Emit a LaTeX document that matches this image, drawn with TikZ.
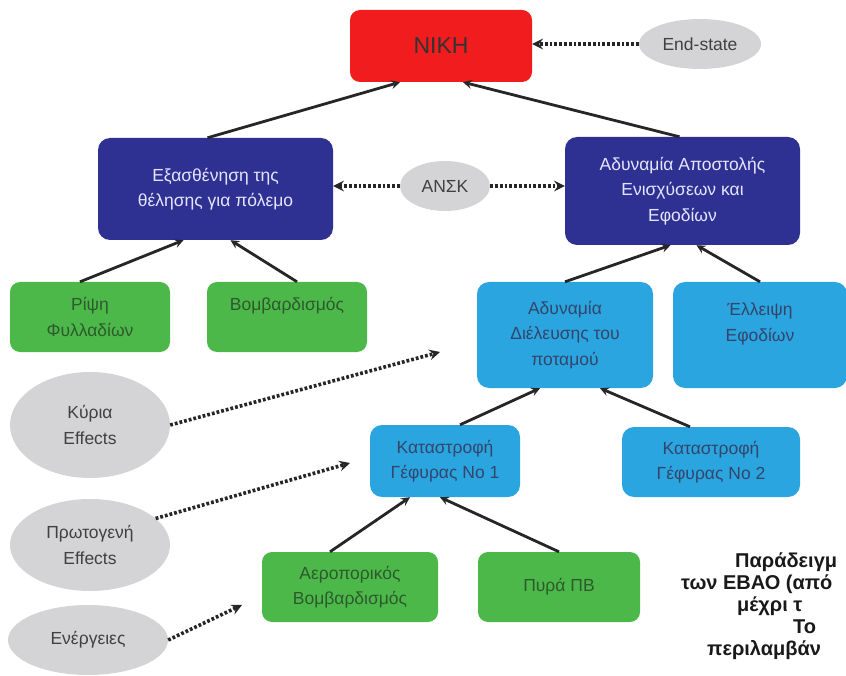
\documentclass[tikz,border=0pt]{standalone}
\usepackage{fontspec}
\setmainfont{Liberation Sans}
\usepackage{xcolor}
\usetikzlibrary{shapes.geometric, arrows}
\definecolor{nikered}{HTML}{F01C1E}
\definecolor{darkblue}{HTML}{2E3192}
\definecolor{lightblue}{HTML}{2AA5E0}
\definecolor{leafgreen}{HTML}{4DB84A}
\definecolor{ovalgray}{HTML}{D4D4D6}
\definecolor{slatetext}{HTML}{34456A}
\definecolor{greentext}{HTML}{2C5A2C}
\tikzstyle{goal} = [rectangle, rounded corners=10pt, inner sep=0pt, align=center, fill=nikered, text=black!80, font=\fontsize{23}{26}\selectfont]
\tikzstyle{level1} = [rectangle, rounded corners=12pt, inner sep=0pt, align=center, fill=darkblue, text=blue!10]
\tikzstyle{level2} = [rectangle, rounded corners=12pt, inner sep=0pt, align=center, fill=lightblue, text=slatetext]
\tikzstyle{level3} = [rectangle, rounded corners=10pt, inner sep=0pt, align=center, fill=leafgreen, text=greentext]
\tikzstyle{tag} = [ellipse, inner sep=0pt, align=center, fill=ovalgray, text=black!75]
\tikzstyle{arrow} = [line width=2.8pt, ->, >=stealth, black!85]
\tikzstyle{dotarrow} = [line width=3.6pt, dash pattern=on 2.8pt off 2pt, ->, >=stealth, black!85]
\tikzstyle{note} = [anchor=base west, inner sep=0pt, font=\bfseries\fontsize{20}{22}\selectfont, text=black!90]

\begin{document}
\begin{tikzpicture}[x=1pt, y=-1pt, font=\fontsize{17.5}{25.5}\selectfont]
		\useasboundingbox (0,0) rectangle (846,676);
		\node (nike) [goal, minimum width=182pt, minimum height=72pt] at (441,46) {NIKH};
		\node (endstate) [tag, minimum width=122pt, minimum height=50pt] at (700,44) {End-state};
		\node (exas) [level1, minimum width=235pt, minimum height=102pt] at (215.5,189) {Εξασθένηση της\\θέλησης για πόλεμο};
		\node (ansk) [tag, minimum width=90pt, minimum height=50pt] at (445,186) {ΑΝΣΚ};
		\node (adyn) [level1, minimum width=235pt, minimum height=108pt] at (682.5,191) {Αδυναμία Αποστολής\\Ενισχύσεων και\\Εφοδίων};
		\node (ripsi) [level3, minimum width=160pt, minimum height=70pt] at (90,317) {Ρίψη\\Φυλλαδίων};
		\node (vomv) [level3, minimum width=160pt, minimum height=70pt] at (287,317) {Βομβαρδισμός\\~};
		\node (dielef) [level2, minimum width=176pt, minimum height=106pt] at (565,335) {Αδυναμία\\Διέλευσης του\\ποταμού};
		\node (elleipsi) [level2, minimum width=174pt, minimum height=106pt] at (760,335) {Έλλειψη\\Εφοδίων\\~};
		\node (kyria) [tag, minimum width=160pt, minimum height=106pt] at (90,425) {Κύρια\\Effects};
		\node (gef1) [level2, minimum width=150pt, minimum height=72pt] at (445,461) {Καταστροφή\\Γέφυρας Νο 1};
		\node (gef2) [level2, minimum width=178pt, minimum height=70pt] at (711,462) {Καταστροφή\\Γέφυρας Νο 2};
		\node (protog) [tag, minimum width=160pt, minimum height=92pt] at (90,545) {Πρωτογενή\\Effects};
		\node (aeropor) [level3, minimum width=176pt, minimum height=70pt] at (350,587) {Αεροπορικός\\Βομβαρδισμός};
		\node (pyra) [level3, minimum width=162pt, minimum height=70pt] at (559,587) {Πυρά ΠΒ};
		\node (energ) [tag, minimum width=160pt, minimum height=70pt] at (88,640) {Ενέργειες};
		\coordinate (kyriaend) at (440,352);
		\coordinate (protogend) at (350,463);
		\coordinate (energend) at (242,605);
		% caption cut at the right edge
		\node (cap1) [note] at (735,567) {Παράδειγμ};
		\node (cap2) [note] at (681,589) {των ΕΒΑΟ (από};
		\node (cap3) [note] at (737,611) {μέχρι τ};
		\node (cap4) [note] at (793,633) {Το};
		\node (cap5) [note] at (707,655) {περιλαμβάν};
		
		\draw [arrow] (exas.north) ++(-8pt,0) -- ([xshift=-41pt]nike.south);
		\draw [arrow] (adyn.north) ++(-3pt,0) -- ([xshift=22pt]nike.south);
		\draw [arrow] (ripsi.north) ++(-10pt,0) -- ([xshift=-32pt]exas.south);
		\draw [arrow] (vomv.north) ++(10pt,0) -- ([xshift=15pt]exas.south);
		\draw [arrow] (dielef.north) -- ([xshift=-12pt]adyn.south);
		\draw [arrow] (elleipsi.north) -- ([xshift=14pt]adyn.south);
		\draw [arrow] (gef1.north) ++(15pt,0) -- ([xshift=-25pt]dielef.south);
		\draw [arrow] (gef2.north) ++(-21pt,0) -- ([xshift=35pt]dielef.south);
		\draw [arrow] (aeropor.north) ++(-20pt,0) -- ([xshift=-35pt]gef1.south);
		\draw [arrow] (pyra.north) -- ([xshift=-5pt]gef1.south);
		\draw [dotarrow] (endstate.west) -- (endstate.west -| nike.east);
		\draw [dotarrow] (ansk.west) -- (ansk.west -| exas.east);
		\draw [dotarrow] (ansk.east) -- (ansk.east -| adyn.west);
		\draw [dotarrow] (kyria.east) -- (kyriaend);
		\draw [dotarrow] (protog.22) -- (protogend);
		\draw [dotarrow] (energ.east) -- (energend);
	\end{tikzpicture}
\end{document}
